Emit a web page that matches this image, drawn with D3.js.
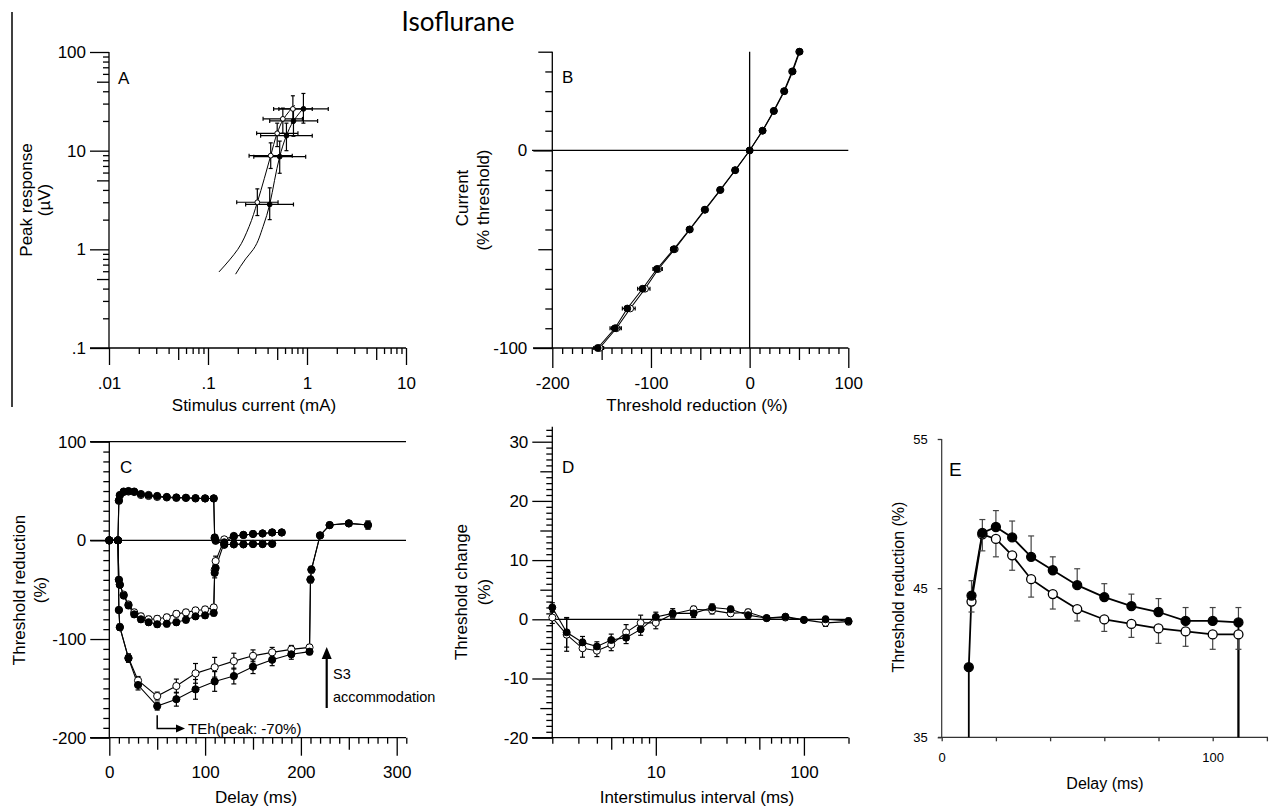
<!DOCTYPE html>
<html>
<head>
<meta charset="utf-8">
<script src="https://cdn.jsdelivr.net/npm/d3@7"></script>
<style>
  body { margin: 0; background: #fff; }
  svg { display: block; font-family: "Liberation Sans", Arial, sans-serif; }
  .axis line { stroke: #000; stroke-width: 1.3px; }
  .axis text { font-size: 17px; fill: #000; font-family: "Liberation Sans", Arial, sans-serif; }
  .axE line { stroke: #333; }
  .axE text { font-size: 13px; }
</style>
</head>
<body>
<svg id="fig" width="1269" height="806"></svg>
<script>
// ---------- data ----------

// A: recruitment curves (stimulus current mA vs peak response uV)
const aOpenX   = [0.315, 0.43, 0.50, 0.57, 0.72];
const aOpenY   = [3.0, 8.9, 15.0, 21.0, 26.5];
const aOpenXLo = [0.195, 0.26, 0.31, 0.36, 0.46];
const aOpenXHi = [0.51, 0.71, 0.81, 0.90, 1.13];
const aOpenYLo = [2.2, 6.6, 11, 15, 19];
const aOpenYHi = [4.1, 12, 19, 27, 36];
const aFillX   = [0.42, 0.53, 0.62, 0.73, 0.92];
const aFillY   = [2.85, 8.7, 14.2, 20, 26.5];
const aFillXLo = [0.24, 0.29, 0.34, 0.42, 0.52];
const aFillXHi = [0.73, 0.97, 1.13, 1.28, 1.64];
const aFillYLo = [2.0, 5.9, 10, 14, 19];
const aFillYHi = [4.2, 12.5, 19, 26, 38];
const aOpenFitX = [0.129, 0.165, 0.2, 0.26, 0.315, 0.37, 0.43, 0.5, 0.58, 0.66, 0.75];
const aOpenFitY = [0.59, 0.78, 1.0, 1.7, 3.0, 5.2, 8.9, 15, 21, 25, 29];
const aFillFitX = [0.19, 0.24, 0.287, 0.36, 0.42, 0.47, 0.53, 0.62, 0.73, 0.85, 0.95];
const aFillFitY = [0.56, 0.8, 1.0, 1.7, 2.85, 5, 8.7, 14.2, 20, 24.5, 28];
const aXTickLabels = [".01", ".1", "1", "10"];
const aYTickLabels = [".1", "1", "10", "100"];

// B: current-threshold relationship
const bCurrent = [50, 40, 30, 20, 10, 0, -10, -20, -30, -40, -50, -60, -70, -80, -90, -100];
const bFill = [50.7, 43.6, 35.2, 24.7, 13.2, 0, -14.8, -30, -45.6, -61, -77, -94, -108.5, -124, -136.5, -154];
const bOpen = [50.2, 43, 34.8, 24.3, 13, 0, -14.5, -29.5, -45, -60.5, -76, -92.5, -106, -121, -135, -152];
const bErr  = [1, 1, 1.5, 1, 1, 0, 1, 1.5, 1.5, 2, 3, 4, 5, 5, 5, 4];

// C: threshold electrotonus
const cTEdDelay = [0, 9, 10, 11, 15, 20, 26, 33, 41, 50, 60, 70, 80, 90, 100, 109, 110, 111, 120, 130, 140, 150, 160, 170];
const cTEdFill  = [0, 0, 40.5, 46, 49.5, 50, 49.5, 47, 46, 45, 44, 43.5, 43.2, 42.8, 42.5, 42.5, 3, 0, -4.5, -4, -4, -3.8, -3.8, -3.5];
const cTEdOpen  = [0, 0, 40, 45.5, 49, 49.5, 49, 46, 45, 44, 43.5, 43, 43, 42.5, 42.5, 42.5, 2, -0.5, -4, -4, -4, -3.5, -3.5, -3.5];
const cTEdErr   = [0, 0, 1.5, 1.5, 1.5, 1.5, 1.5, 1.5, 1.5, 1.5, 1.5, 1.5, 1.5, 1.5, 1.5, 1.5, 2, 2, 1.5, 1.5, 1.5, 1.5, 1.5, 1.5];
const cTEh40Delay = [0, 9, 10, 11, 15, 20, 26, 33, 41, 50, 60, 70, 80, 90, 100, 109, 110, 111, 120, 130, 140, 150, 160, 170, 180];
const cTEh40Fill  = [0, 0, -40, -45, -56, -66, -75, -80, -83, -85, -84.5, -83, -80.5, -77, -76, -73.5, -33, -28, -2, 4, 5.5, 6.5, 7, 8, 8];
const cTEh40Open  = [0, 0, -40, -45, -55, -65, -73, -77, -80, -79.5, -78, -74.5, -73, -71, -70, -68, -30, -21, 1, 4.5, 5.5, 6.5, 7, 8, 8];
const cTEh40Err   = [0, 0, 2, 2, 2, 3, 3, 3, 3, 3, 3, 3, 3, 3, 3, 3, 5, 5, 2, 2, 2, 2, 2, 2, 2];
const cTEh100Delay = [0, 9, 10, 11, 20, 30, 50, 70, 90, 110, 130, 150, 170, 190, 209, 210, 211, 220, 230, 250, 270];
const cTEh100Fill  = [0, 0, -70.6, -88, -119.6, -146.6, -168, -161, -151, -143, -137.5, -128, -121, -115.5, -112.8, -39.5, -29.4, 5, 15.5, 17.2, 15.5];
const cTEh100Open  = [0, 0, -70.6, -88, -119, -142, -157.8, -147.6, -134.8, -128.6, -122.4, -117, -113.5, -110.5, -108.5, -40, -30, 5, 15.5, 17.2, 15.5];
const cTEh100FillErr = [0, 0, 2, 3, 4, 5, 4, 7, 10, 10, 8, 7, 6, 5, 3, 3, 3, 2, 2, 2, 4];
const cTEh100OpenErr = [0, 0, 2, 3, 4, 4, 4, 7, 10, 10, 8, 6, 5, 4, 3, 3, 3, 2, 2, 2, 4];

// D: recovery cycle
const dISI  = [2, 2.5, 3.2, 4, 5, 6.3, 7.9, 10, 13, 18, 24, 32, 42, 56, 75, 100, 140, 200];
const dFill = [2.0, -2.2, -3.9, -4.6, -3.5, -3.1, -1.7, 0.4, 1.0, 1.0, 2.0, 1.7, 0.7, 0.2, 0.45, -0.1, 0, -0.3];
const dOpen = [0.3, -2.6, -4.9, -5.3, -4.3, -2.2, -0.6, -0.6, 0.9, 1.7, 1.5, 1.0, 1.2, 0.2, 0.3, -0.1, -0.6, -0.4];
const dFillErr = [0.8, 2.5, 1, 0.8, 1, 1, 1, 0.8, 0.8, 0.7, 0.6, 0.5, 0.5, 0.4, 0.4, 0.4, 0.5, 0.5];
const dOpenErr = [1, 2.8, 1.5, 1, 1, 1.3, 1.3, 1, 0.6, 0.5, 0.6, 0.5, 0.5, 0.4, 0.4, 0.4, 0.6, 0.5];

// E: TEd40 enlarged
const eFillDelay = [10, 10, 11, 15, 20, 26, 33, 41, 50, 60, 70, 80, 90, 100, 109.5, 109.5];
const eFill      = [0, 39.7, 44.5, 48.7, 49.1, 48.4, 47.1, 46.2, 45.2, 44.4, 43.8, 43.4, 42.8, 42.8, 42.7, 0];
const eFillErr   = [0, 0, 1.0, 0.9, 1.1, 1.1, 1.4, 0.9, 1.1, 0.9, 0.8, 0.9, 0.9, 0.9, 1.0, 0];
const eOpenDelay = [11, 15, 20, 26, 33, 41, 50, 60, 70, 80, 90, 100, 109.5, 109.5];
const eOpen      = [44.1, 48.6, 48.3, 47.2, 45.6, 44.6, 43.6, 42.9, 42.6, 42.3, 42.1, 41.9, 41.9, 0];
const eOpenErr   = [0.7, 1.1, 1.2, 1.0, 1.2, 1.0, 0.8, 0.8, 0.9, 1.0, 1.0, 1.0, 1.0, 0];

// ---------- helpers ----------
const svg = d3.select("#fig");

function tickSet(orient, scale, at, values, size, labels, pad, cls) {
  const ax = (orient === "left" ? d3.axisLeft(scale) : d3.axisBottom(scale))
    .tickValues(values).tickSize(size).tickPadding(pad || 3)
    .tickFormat(labels ? (d, i) => labels[i] : "");
  const g = svg.append("g").attr("class", "axis " + (cls || ""))
    .attr("transform", orient === "left" ? `translate(${at},0)` : `translate(0,${at})`)
    .call(ax);
  g.select(".domain").remove();
  return g;
}

function seg(x1, y1, x2, y2, color, w) {
  svg.append("line").attr("x1", x1).attr("y1", y1).attr("x2", x2).attr("y2", y2)
    .attr("stroke", color || "#000").attr("stroke-width", w || 1.3);
}

function text(str, x, y, size, opts) {
  opts = opts || {};
  const t = svg.append("text").attr("x", x).attr("y", y)
    .attr("font-size", size).attr("fill", "#000")
    .attr("text-anchor", opts.anchor || "middle").text(str);
  if (opts.rotate) t.attr("transform", `rotate(-90,${x},${y})`).attr("dy", "0.35em");
  if (opts.family) t.attr("font-family", opts.family);
  return t;
}

function pts(xs, ys) { return xs.map((x, i) => ({ x: x, y: ys[i], i: i })); }

function drawLine(xS, yS, data, w, curve) {
  const ln = d3.line().x(d => xS(d.x)).y(d => yS(d.y));
  if (curve) ln.curve(curve);
  svg.append("path").attr("d", ln(data)).attr("fill", "none")
    .attr("stroke", "#000").attr("stroke-width", w || 1.1);
}

function drawErrY(xS, yS, data, lo, hi, cap, color, w) {
  const g = svg.append("g").attr("stroke", color || "#000").attr("stroke-width", w || 1.2);
  data.forEach(d => {
    if (lo[d.i] === hi[d.i]) return;
    const x = xS(d.x), y1 = yS(lo[d.i]), y2 = yS(hi[d.i]);
    g.append("line").attr("x1", x).attr("x2", x).attr("y1", y1).attr("y2", y2);
    if (lo[d.i] !== d.y) g.append("line").attr("x1", x - cap).attr("x2", x + cap).attr("y1", y1).attr("y2", y1);
    if (hi[d.i] !== d.y) g.append("line").attr("x1", x - cap).attr("x2", x + cap).attr("y1", y2).attr("y2", y2);
  });
}

function drawErrX(xS, yS, data, lo, hi, cap) {
  const g = svg.append("g").attr("stroke", "#000").attr("stroke-width", 1.2);
  data.forEach(d => {
    const y = yS(d.y), x1 = xS(lo[d.i]), x2 = xS(hi[d.i]);
    g.append("line").attr("x1", x1).attr("x2", x2).attr("y1", y).attr("y2", y);
    g.append("line").attr("x1", x1).attr("x2", x1).attr("y1", y - cap).attr("y2", y + cap);
    g.append("line").attr("x1", x2).attr("x2", x2).attr("y1", y - cap).attr("y2", y + cap);
  });
}

function drawDots(xS, yS, data, filled, r, sw) {
  svg.append("g").selectAll("circle").data(data).join("circle")
    .attr("cx", d => xS(d.x)).attr("cy", d => yS(d.y)).attr("r", r)
    .attr("fill", filled ? "#000" : "#fff").attr("stroke", "#000").attr("stroke-width", sw || 1);
}

function logTicks(lo, hi, mults) {
  const out = [];
  for (let p = lo; p < hi; p *= 10) mults.forEach(m => out.push(p * m));
  return out;
}
function linTicks(a, b, step, skip) {
  return d3.range(a, b + step / 2, step).filter(v => !skip.some(s => Math.abs(v - s) < 1e-6));
}

// ---------- title and frame ----------
text("Isoflurane", 458, 31, 26, { family: "Lato, 'Open Sans', sans-serif" });
seg(12, 12, 12, 407, "#000", 1.5);

// ---------- A ----------
const aX = d3.scaleLog().domain([0.01, 10]).range([109, 406]);
const aY = d3.scaleLog().domain([0.1, 100]).range([348, 52]);
seg(90, 348, 406, 348);
seg(109, 52, 109, 348);
tickSet("bottom", aX, 348, logTicks(0.01, 10, [2, 3, 4, 6, 7, 8, 9]), 6);
tickSet("bottom", aX, 348, logTicks(0.01, 10, [5]), 12);
tickSet("bottom", aX, 348, [0.01, 0.1, 1, 10], 17, aXTickLabels, 12);
tickSet("left", aY, 109, logTicks(0.1, 100, [2, 3, 4, 6, 7, 8, 9]), 6);
tickSet("left", aY, 109, logTicks(0.1, 100, [5]), 12);
tickSet("left", aY, 109, [0.1, 1, 10, 100], 19, aYTickLabels, 4);
text("A", 118, 84, 17, { anchor: "start" });
text("Peak response", 26, 200, 17, { rotate: true });
text("(µV)", 44, 200, 17, { rotate: true });
text("Stimulus current (mA)", 254, 411, 17);

const aOpen = pts(aOpenX, aOpenY), aFill = pts(aFillX, aFillY);
drawLine(aX, aY, pts(aOpenFitX, aOpenFitY), 1, d3.curveMonotoneY);
drawLine(aX, aY, pts(aFillFitX, aFillFitY), 1, d3.curveMonotoneY);
drawErrX(aX, aY, aOpen, aOpenXLo, aOpenXHi, 2);
drawErrX(aX, aY, aFill, aFillXLo, aFillXHi, 2);
drawErrY(aX, aY, aOpen, aOpenYLo, aOpenYHi, 2);
drawErrY(aX, aY, aFill, aFillYLo, aFillYHi, 2);
drawDots(aX, aY, aOpen, false, 2.4);
drawDots(aX, aY, aFill, true, 2.4);

// ---------- B ----------
const bX = d3.scaleLinear().domain([-200, 100]).range([552.3, 848.3]);
const bY = d3.scaleLinear().domain([-100, 50]).range([348, 51.7]);
seg(533, 348, 848.3, 348);
seg(552.3, 51.7, 552.3, 348);
seg(532, bY(0), 848.3, bY(0));
seg(bX(0), 51.7, bX(0), 348);
tickSet("bottom", bX, 348, linTicks(-200, 100, 10, [-200, -150, -100, -50, 0, 50, 100]), 6);
tickSet("bottom", bX, 348, [-150, -50, 50], 12);
tickSet("bottom", bX, 348, [-200, -100, 0, 100], 20, ["-200", "-100", "0", "100"], 9);
tickSet("left", bY, 552.3, linTicks(-100, 50, 10, [-100, -50, 0, 50]), 7);
tickSet("left", bY, 552.3, [-50, 50], 14);
tickSet("left", bY, 552.3, [0, -100], 19, ["0", "-100"], 6);
text("B", 562, 83, 17, { anchor: "start" });
text("Current", 462, 198, 17, { rotate: true });
text("(% threshold)", 483, 200, 17, { rotate: true });
text("Threshold reduction (%)", 697, 411, 17);

const bO = pts(bOpen, bCurrent), bF = pts(bFill, bCurrent);
drawLine(bX, bY, bO);
drawLine(bX, bY, bF);
drawErrX(bX, bY, bO, bOpen.map((v, i) => v - bErr[i]), bOpen.map((v, i) => v + bErr[i]), 2);
drawErrX(bX, bY, bF, bFill.map((v, i) => v - bErr[i]), bFill.map((v, i) => v + bErr[i]), 2);
drawDots(bX, bY, bO, false, 3.4);
drawDots(bX, bY, bF, true, 3.4);

// ---------- C ----------
const cX = d3.scaleLinear().domain([0, 300]).range([109.3, 396.7]);
const cY = d3.scaleLinear().domain([-200, 100]).range([737.7, 441.7]);
seg(90, 737.7, 406, 737.7);
seg(109.3, 441.7, 109.3, 737.7);
seg(90, cY(100), 406, cY(100));
seg(90, cY(0), 406, cY(0));
tickSet("bottom", cX, 737.7, linTicks(0, 310, 10, [0, 50, 100, 150, 200, 250, 300]), 6);
tickSet("bottom", cX, 737.7, [50, 150, 250], 12);
tickSet("bottom", cX, 737.7, [0, 100, 200, 300], 18, ["0", "100", "200", "300"], 10);
tickSet("left", cY, 109.3, linTicks(-200, 100, 10, [-200, -100, 0, 100]), 6);
tickSet("left", cY, 109.3, [-200, -100, 0, 100], 19, ["-200", "-100", "0", "100"], 4);
text("C", 120, 473, 17, { anchor: "start" });
text("Threshold reduction", 19, 590, 17, { rotate: true });
text("(%)", 40, 590, 17, { rotate: true });
text("Delay (ms)", 256, 803, 17);

const cSeries = [
  [cTEdDelay, cTEdOpen, cTEdFill, cTEdErr, cTEdErr],
  [cTEh40Delay, cTEh40Open, cTEh40Fill, cTEh40Err, cTEh40Err],
  [cTEh100Delay, cTEh100Open, cTEh100Fill, cTEh100OpenErr, cTEh100FillErr]
];
cSeries.forEach(s => {
  const o = pts(s[0], s[1]), f = pts(s[0], s[2]);
  drawLine(cX, cY, o);
  drawLine(cX, cY, f);
  drawErrY(cX, cY, o, s[1].map((v, i) => v - s[3][i]), s[1].map((v, i) => v + s[3][i]), 2.5);
  drawErrY(cX, cY, f, s[2].map((v, i) => v - s[4][i]), s[2].map((v, i) => v + s[4][i]), 2.5);
});
cSeries.forEach(s => drawDots(cX, cY, pts(s[0], s[1]), false, 3.6));
cSeries.forEach(s => drawDots(cX, cY, pts(s[0], s[2]), true, 3.6));

// annotations
const peakX = cX(cTEh100Delay[6]);
svg.append("path")
  .attr("d", `M${peakX},${cY(cTEh100Fill[6]) + 9}V728.5H177`)
  .attr("fill", "none").attr("stroke", "#000").attr("stroke-width", 1.5);
svg.append("path").attr("d", "M185,728.5L176,724.5L176,732.5Z").attr("fill", "#000");
text("TEh(peak: -70%)", 188, 734, 15, { anchor: "start" });
seg(326.7, 708, 326.7, 657, "#000", 2.2);
svg.append("path").attr("d", "M326.7,647L321.7,659L331.7,659Z").attr("fill", "#000");
text("S3", 333, 679, 14.5, { anchor: "start" });
text("accommodation", 333, 702, 14.5, { anchor: "start" });

// ---------- D ----------
const dX = d3.scaleLog().domain([2, 200]).range([552.3, 848.5]);
const dY = d3.scaleLinear().domain([-20, 30]).range([737.7, 441.7]);
seg(532, 737.7, 848.5, 737.7);
seg(552.3, 426.7, 552.3, 737.7);
seg(552.3, dY(0), 848.5, dY(0));
tickSet("bottom", dX, 737.7, [2, 3, 4, 6, 7, 8, 9, 20, 30, 40, 60, 70, 80, 90, 200], 6);
tickSet("bottom", dX, 737.7, [5, 50], 12);
tickSet("bottom", dX, 737.7, [10, 100], 18, ["10", "100"], 10);
tickSet("left", dY, 552.3, linTicks(-20, 32, 1, d3.range(-20, 31, 5)), 6);
tickSet("left", dY, 552.3, [-15, -5, 5, 15, 25], 12);
tickSet("left", dY, 552.3, [-20, -10, 0, 10, 20, 30], 20, ["-20", "-10", "0", "10", "20", "30"], 4);
text("D", 562, 473, 17, { anchor: "start" });
text("Threshold change", 461, 592, 17, { rotate: true });
text("(%)", 484, 592, 17, { rotate: true });
text("Interstimulus interval (ms)", 697, 803, 17);

const dO = pts(dISI, dOpen), dF = pts(dISI, dFill);
drawLine(dX, dY, dO);
drawLine(dX, dY, dF);
drawErrY(dX, dY, dO, dOpen.map((v, i) => v - dOpenErr[i]), dOpen.map((v, i) => v + dOpenErr[i]), 2.5);
drawErrY(dX, dY, dF, dFill.map((v, i) => v - dFillErr[i]), dFill.map((v, i) => v + dFillErr[i]), 2.5);
drawDots(dX, dY, dO, false, 3.5);
drawDots(dX, dY, dF, true, 3.5);

// ---------- E ----------
const eX = d3.scaleLinear().domain([0, 100]).range([941.7, 1212.7]);
const eY = d3.scaleLinear().domain([35, 55]).range([737.3, 439]).clamp(true);
seg(938, 737.3, 1268, 737.3, "#333", 1.2);
seg(941.7, 439, 941.7, 737.3, "#333", 1.2);
tickSet("bottom", eX, 737.3, [0, 20, 40, 60, 80, 100, 120], 4, ["0", "", "", "", "", "100", ""], 11, "axE");
tickSet("left", eY, 941.7, [35, 45, 55], 4, ["35", "45", "55"], 10, "axE");
text("E", 949, 476, 19, { anchor: "start" });
text("Threshold reduction (%)", 898, 587, 16, { rotate: true });
text("Delay (ms)", 1105, 789, 16);

const eO = pts(eOpenDelay, eOpen), eF = pts(eFillDelay, eFill);
drawLine(eX, eY, eF, 1.8);
drawLine(eX, eY, eO, 1.8);
drawErrY(eX, eY, eF.filter(d => eFillErr[d.i] > 0), eFill, eFill.map((v, i) => v + eFillErr[i]), 3, "#444", 1.2);
drawErrY(eX, eY, eO.filter(d => eOpenErr[d.i] > 0), eOpen.map((v, i) => v - eOpenErr[i]), eOpen, 3, "#444", 1.2);
drawDots(eX, eY, eO.filter(d => d.y >= 35), false, 4.5, 1.3);
drawDots(eX, eY, eF.filter(d => d.y >= 35), true, 4.5, 1.3);
</script>
</body>
</html>
